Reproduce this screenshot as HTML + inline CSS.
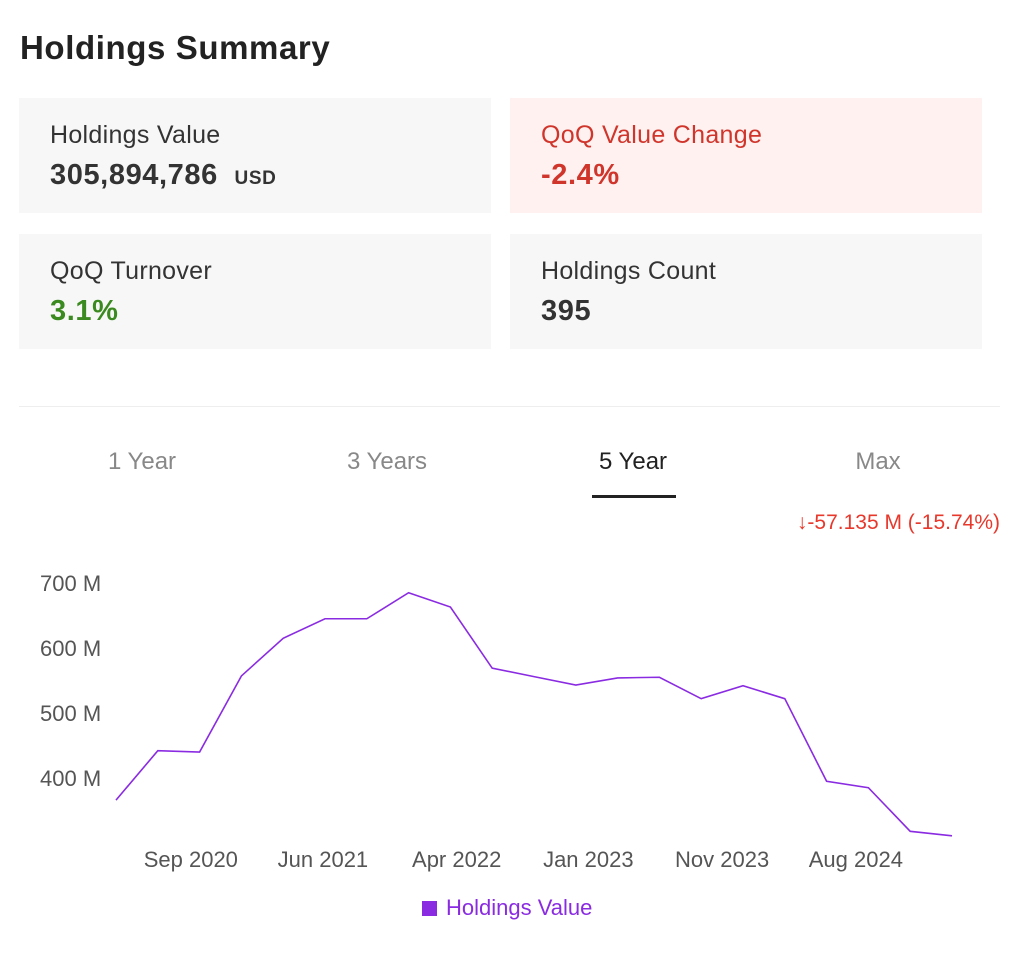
<!DOCTYPE html>
<html><head><meta charset="utf-8"><style>
body{margin:0;width:1024px;height:962px;background:#fff;font-family:"Liberation Sans",sans-serif;position:relative;overflow:hidden;color:#222}
.abs{position:absolute}
.card{position:absolute;background:#f7f7f7;width:472px;height:115px}
.lbl{position:absolute;left:31px;top:23px;font-size:25px;color:#333;letter-spacing:0.3px}
.val{position:absolute;left:31px;top:61px;font-size:29px;font-weight:bold;color:#333;letter-spacing:0.6px}
.tab{position:absolute;top:448px;font-size:24px;color:#888;text-align:center;width:200px}
</style></head><body>
<div class="abs" style="left:20px;top:29px;font-size:33px;font-weight:bold;color:#222;letter-spacing:0.6px">Holdings Summary</div>
<div class="card" style="left:19px;top:98px"><div class="lbl">Holdings Value</div><div class="val">305,894,786 <span style="font-size:19px;margin-left:8px">USD</span></div></div>
<div class="card" style="left:510px;top:98px;background:#fff1f0"><div class="lbl" style="color:#d0352b">QoQ Value Change</div><div class="val" style="color:#d0352b">-2.4%</div></div>
<div class="card" style="left:19px;top:234px"><div class="lbl">QoQ Turnover</div><div class="val" style="color:#3a8a1f">3.1%</div></div>
<div class="card" style="left:510px;top:234px"><div class="lbl">Holdings Count</div><div class="val">395</div></div>
<div class="abs" style="left:19px;top:406px;width:981px;height:1px;background:#eee"></div>
<div class="tab" style="left:42px">1 Year</div>
<div class="tab" style="left:287px">3 Years</div>
<div class="tab" style="left:533px;color:#222">5 Year</div>
<div class="tab" style="left:778px">Max</div>
<div class="abs" style="left:592px;top:495px;width:84px;height:3px;background:#222"></div>
<div class="abs" style="right:24px;top:511px;font-size:21px;color:#e8382c">↓-57.135 M (-15.74%)</div>
<svg class="abs" style="left:0;top:540px" width="1024" height="400">
<g id="g"></g></svg>
<div class="abs" style="left:422px;top:895px;font-size:22px;color:#8a2be2"><span style="display:inline-block;width:15px;height:15px;background:#8a2be2;margin-right:9px;vertical-align:-1px"></span>Holdings Value</div>
<script>
const values=[366,442,440,557,615,645,645,685,663,569,556,543,554,555,522,542,522,395,385,318,311];
const yTicks=[400,500,600,700];
const xLabels=["Sep 2020","Jun 2021","Apr 2022","Jan 2023","Nov 2023","Aug 2024"];
const xLabelIdx=[1.79,4.95,8.15,11.3,14.5,17.7];
const OY=540;
const x=i=>116+i*41.8;
const y=v=>583-OY+(700-v)*0.65;
const g=document.getElementById('g');
const NS='http://www.w3.org/2000/svg';
yTicks.forEach(t=>{const e=document.createElementNS(NS,'text');


e.setAttribute('x',40);e.setAttribute('y',y(t)+8);e.setAttribute('font-size','22');e.setAttribute('fill','#555');e.textContent=t+' M';g.appendChild(e);});
xLabels.forEach((l,i)=>{const e=document.createElementNS(NS,'text');


e.setAttribute('x',x(xLabelIdx[i]));e.setAttribute('y',327);e.setAttribute('text-anchor','middle');e.setAttribute('font-size','22');e.setAttribute('fill','#555');e.textContent=l;g.appendChild(e);});
const p=document.createElementNS(NS,'polyline');


p.setAttribute('points',values.map((v,i)=>x(i)+','+y(v)).join(' '));
p.setAttribute('fill','none');p.setAttribute('stroke','#8a2be2');p.setAttribute('stroke-width','1.6');
g.appendChild(p);
</script>
</body></html>
